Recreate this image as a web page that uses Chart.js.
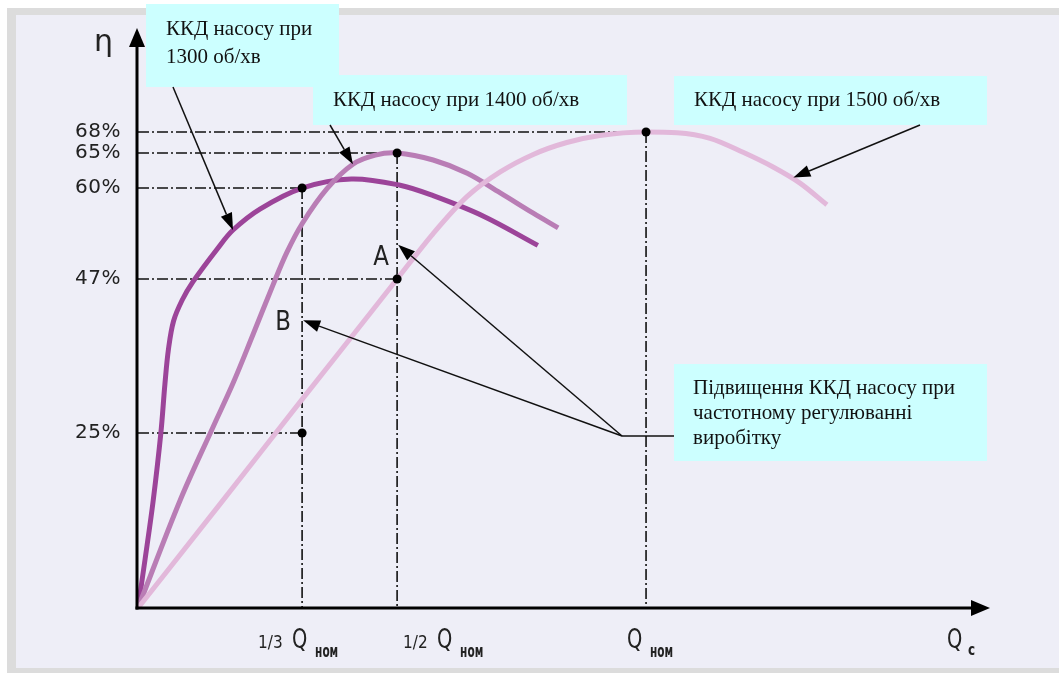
<!DOCTYPE html>
<html>
<head>
<meta charset="utf-8">
<script src="https://cdn.jsdelivr.net/npm/chart.js@4/dist/chart.umd.min.js"></script>
<style>
  html, body { margin: 0; padding: 0; background: #ffffff; }
  canvas { display: block; }
</style>
</head>
<body>
<canvas id="pumpChart" width="1059" height="673"></canvas>
<script>
// ---- data (x: share of nominal flow, y: efficiency %) ----
const q1300 = [0, 0.014, 0.030, 0.045, 0.053, 0.060, 0.070, 0.087, 0.108, 0.156, 0.187, 0.24, 0.323, 0.42, 0.516, 0.581, 0.679, 0.787];
const eff1300 = [0, 7, 15.4, 25, 32, 37, 41, 44, 46.6, 51.3, 54, 57, 60, 61.3, 60.4, 58.9, 56, 51.8];

const q1400 = [0, 0.083, 0.148, 0.187, 0.226, 0.266, 0.293, 0.323, 0.372, 0.423, 0.467, 0.51, 0.581, 0.648, 0.713, 0.778, 0.827];
const eff1400 = [0, 15.4, 25.9, 32.1, 39, 46.2, 50.8, 54.9, 59.9, 63.4, 64.7, 65, 64, 62.1, 59.3, 56.4, 54.3];

const q1500 = [0, 0.161, 0.323, 0.457, 0.51, 0.581, 0.648, 0.713, 0.778, 0.844, 0.909, 1.0, 1.061, 1.126, 1.191, 1.25, 1.303, 1.356];
const eff1500 = [0, 14.8, 29.8, 42.1, 47, 53.5, 58.8, 62.3, 64.8, 66.5, 67.5, 68, 67.9, 67.1, 65.1, 63, 60.7, 57.6];

// marked operating points
const markQ = [0.323, 0.51, 1.0, 0.51, 0.323];
const markEff = [60, 65, 68, 47, 25];

// axis ticks
const effTicks = [68, 65, 60, 47, 25];
const flowTicks = [0.323, 0.51, 1.0];
const flowTickFractions = ["1/3", "1/2", ""];

const curveLabels = ["ККД насосу при 1300 об/хв", "ККД насосу при 1400 об/хв", "ККД насосу при 1500 об/хв"];

const X_MAX = 1.677;
const Y_MAX = 82.86;

function toPoints(xs, ys) {
  return xs.map((x, i) => ({ x: x, y: ys[i] }));
}

// ---- guide lines (dash-dot) built from the marked points ----
const DASH = [11, 3, 2, 3];
const guideDatasets = [];
markQ.forEach((q, i) => {
  guideDatasets.push({
    data: [{ x: 0, y: markEff[i] }, { x: q, y: markEff[i] }],
    borderColor: "#111111", borderWidth: 1.6, borderDash: DASH,
    pointRadius: 0, order: 5,
  });
});
flowTicks.forEach(q => {
  const top = Math.max(...markEff.filter((e, i) => markQ[i] === q));
  guideDatasets.push({
    data: [{ x: q, y: top }, { x: q, y: 0 }],
    borderColor: "#111111", borderWidth: 1.6, borderDash: DASH,
    pointRadius: 0, order: 5,
  });
});

function curve(label, xs, ys, color, smooth) {
  const ds = {
    label, data: toPoints(xs, ys),
    borderColor: color, borderWidth: 5,
    pointRadius: 0, borderCapStyle: "butt", order: 3,
  };
  if (smooth === "monotone") ds.cubicInterpolationMode = "monotone";
  else ds.tension = smooth;
  return ds;
}

// ---- helpers ----
function condText(ctx, str, x, y, size, weight, sx, align) {
  ctx.save();
  ctx.translate(x, y);
  ctx.scale(sx, 1);
  ctx.font = `${weight} ${size}px "DejaVu Sans"`;
  ctx.textAlign = align || "left";
  ctx.textBaseline = "alphabetic";
  ctx.fillText(str, 0, 0);
  ctx.restore();
}

function arrow(ctx, x1, y1, x2, y2, len, half) {
  const a = Math.atan2(y2 - y1, x2 - x1);
  const bx = x2 - len * Math.cos(a), by = y2 - len * Math.sin(a);
  ctx.beginPath();
  ctx.moveTo(x1, y1);
  ctx.lineTo(bx, by);
  ctx.stroke();
  ctx.beginPath();
  ctx.moveTo(x2, y2);
  ctx.lineTo(bx + half * Math.sin(a), by - half * Math.cos(a));
  ctx.lineTo(bx - half * Math.sin(a), by + half * Math.cos(a));
  ctx.closePath();
  ctx.fill();
}

function box(ctx, x, y, w, h) {
  ctx.fillStyle = "#ccffff";
  ctx.fillRect(x, y, w, h);
}

function boxText(ctx, lines, x, yFirst, step) {
  ctx.fillStyle = "#111111";
  ctx.font = '21px "Liberation Serif", "Times New Roman", serif';
  ctx.textAlign = "left";
  ctx.textBaseline = "middle";
  lines.forEach((t, i) => ctx.fillText(t, x, yFirst + i * step));
}

// ---- plugins ----
const backgroundPlugin = {
  id: "panelBackground",
  beforeDraw(chart) {
    const ctx = chart.ctx;
    ctx.save();
    ctx.fillStyle = "#ffffff";
    ctx.fillRect(0, 0, chart.width, chart.height);
    ctx.fillStyle = "#dcdcdc";
    ctx.fillRect(7, 8, chart.width - 7, chart.height - 8);
    ctx.fillStyle = "#eeeef7";
    ctx.fillRect(16, 15, chart.width - 16, chart.height - 20);
    ctx.restore();
  },
};

const axesPlugin = {
  id: "arrowAxes",
  afterDatasetsDraw(chart) {
    const ctx = chart.ctx;
    const xs = chart.scales.x, ys = chart.scales.y;
    const x0 = xs.getPixelForValue(0) - 1, y0 = ys.getPixelForValue(0);
    const xEnd = xs.getPixelForValue(X_MAX), yEnd = ys.getPixelForValue(Y_MAX);
    ctx.save();
    ctx.strokeStyle = "#000000";
    ctx.fillStyle = "#000000";
    ctx.lineWidth = 3;
    arrow(ctx, x0, y0 + 1.5, x0, yEnd, 19, 8);
    arrow(ctx, x0 - 1.5, y0, xEnd, y0, 19, 8);

    // y tick labels
    ctx.fillStyle = "#222222";
    ctx.font = '20px "DejaVu Sans"';
    ctx.letterSpacing = "0.5px";
    ctx.textAlign = "right";
    ctx.textBaseline = "middle";
    effTicks.forEach(v => ctx.fillText(v + "%", 121, ys.getPixelForValue(v)));
    ctx.letterSpacing = "0px";

    // eta
    ctx.font = '30px "DejaVu Sans"';
    ctx.textAlign = "left";
    ctx.textBaseline = "alphabetic";
    ctx.fillText("η", 94, 51);

    // x tick labels
    const base = 648;
    flowTicks.forEach((q, i) => {
      const px = xs.getPixelForValue(q);
      const frac = flowTickFractions[i];
      let qx;
      if (frac === "1/3") {
        condText(ctx, frac, px - 44, base, 18, "normal", 0.85, "left");
        qx = px - 10;
      } else if (frac === "1/2") {
        condText(ctx, frac, px + 6, base, 18, "normal", 0.85, "left");
        qx = px + 40;
      } else {
        qx = px - 19;
      }
      condText(ctx, "Q", qx, base, 27, "normal", 0.72, "left");
      condText(ctx, "ном", qx + 23, base + 9, 17, "bold", 0.62, "left");
    });
    condText(ctx, "Q", xEnd - 43, base, 27, "normal", 0.72, "left");
    condText(ctx, "c", xEnd - 22, base + 7, 15, "bold", 0.8, "left");
    ctx.restore();
  },
};

const calloutPlugin = {
  id: "callouts",
  afterDraw(chart) {
    const ctx = chart.ctx;
    const xs = chart.scales.x, ys = chart.scales.y;
    const P = (q, e) => [xs.getPixelForValue(q), ys.getPixelForValue(e)];

    ctx.save();
    box(ctx, 313, 75, 314, 50);
    box(ctx, 146, 4, 193, 83);
    box(ctx, 674, 76, 313, 49);
    box(ctx, 674, 364, 313, 97);

    boxText(ctx, ["ККД насосу при", "1300 об/хв"], 166, 29, 28);
    boxText(ctx, [curveLabels[1]], 333, 100, 25);
    boxText(ctx, [curveLabels[2]], 694, 100, 25);
    boxText(ctx, ["Підвищення ККД насосу при", "частотному регулюванні", "виробітку"], 693, 388, 25);

    ctx.strokeStyle = "#111111";
    ctx.fillStyle = "#000000";
    ctx.lineWidth = 1.5;
    let t = P(0.187, 54);
    arrow(ctx, 173, 87, t[0], t[1], 17, 6);
    t = P(0.423, 63.4);
    arrow(ctx, 330, 125, t[0], t[1], 17, 6);
    t = P(1.29, 61.5);
    arrow(ctx, 920, 125, t[0], t[1], 17, 6);

    const jx = 622, jy = 436;
    ctx.beginPath();
    ctx.moveTo(674, jy);
    ctx.lineTo(jx, jy);
    ctx.stroke();
    const tA = P(0.512, 51.9);
    const tB = P(0.325, 41.1);
    arrow(ctx, jx, jy, tA[0], tA[1], 17, 6);
    arrow(ctx, jx, jy, tB[0], tB[1], 17, 6);

    ctx.fillStyle = "#222222";
    condText(ctx, "A", tA[0] - 17, tA[1] + 20, 27, "normal", 0.85, "center");
    condText(ctx, "B", tB[0] - 20, tB[1] + 10, 27, "normal", 0.85, "center");
    ctx.restore();
  },
};

// ---- chart ----
const ctx = document.getElementById("pumpChart").getContext("2d");
new Chart(ctx, {
  type: "line",
  data: {
    datasets: [
      ...guideDatasets,
      curve(curveLabels[2], q1500, eff1500, "#e2b8da", "monotone"),
      curve(curveLabels[1], q1400, eff1400, "#b97db5", 0.35),
      curve(curveLabels[0], q1300, eff1300, "#9c4499", 0.35),
      {
        label: "points",
        data: toPoints(markQ, markEff),
        showLine: false,
        pointRadius: 4.5,
        pointBackgroundColor: "#000000",
        pointBorderWidth: 0,
        order: 1,
      },
    ],
  },
  options: {
    responsive: false,
    devicePixelRatio: 1,
    animation: false,
    layout: { padding: { left: 138, right: 69, top: 28, bottom: 65 } },
    plugins: {
      legend: { display: false },
      tooltip: { enabled: false },
    },
    scales: {
      x: { type: "linear", min: 0, max: X_MAX, display: false },
      y: { type: "linear", min: 0, max: Y_MAX, display: false },
    },
  },
  plugins: [backgroundPlugin, axesPlugin, calloutPlugin],
});
</script>
</body>
</html>
